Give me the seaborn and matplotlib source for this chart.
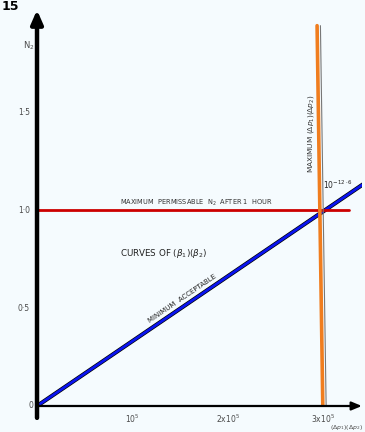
import matplotlib
matplotlib.use("Agg")
import matplotlib.pyplot as plt
import seaborn as sns
import pandas as pd

# values (x in units of 1e5)
min_accept_x = [0.0, 3.42]
min_accept_y = [0.0, 1.13]
max_n2_x = [0.0, 3.28]
max_n2_y = [1.0, 1.0]
max_dp_x = [3.0, 2.94]
max_dp_y = [0.0, 1.94]
y_ticks = [0.5, 1.0, 1.5]
y_labels = ["0·5", "1·0", "1·5"]
x_ticks = [1, 2, 3]
x_labels = ["10$^5$", "2x10$^5$", "3x10$^5$"]

bg = "#f5fbfe"
ink = "#4a4a4a"

sns.set_style("white")
fig = plt.figure(figsize=(3.65, 4.32), dpi=100)
fig.patch.set_facecolor(bg)
ax = fig.add_axes([0.1014, 0.0602, 0.890, 0.9167])
ax.set_facecolor(bg)

# minimum acceptable line: black ink under a blue overlay
line = pd.DataFrame({"x": min_accept_x, "y": min_accept_y})
sns.lineplot(data=line, x="x", y="y", ax=ax, color="black", lw=3.0, sort=False)
sns.lineplot(data=line, x="x", y="y", ax=ax, color="#0a14f0", lw=2.0, sort=False)

# maximum permissable N2
sns.lineplot(x=max_n2_x, y=max_n2_y, ax=ax, color="#cc0000", lw=2, sort=False)

# maximum (dp1)(dp2): thin pencil line plus orange overlay
sns.lineplot(x=[v + 0.035 for v in max_dp_x], y=max_dp_y, ax=ax, color="#777777", lw=0.8, sort=False)
sns.lineplot(x=max_dp_x, y=max_dp_y, ax=ax, color="#f07d1e", lw=2.6, sort=False)

ax.set_xlim(0, 3.41)
ax.set_ylim(0, 2.02)
for s in ax.spines.values():
    s.set_visible(False)

# arrowed axes
ax.annotate("", xy=(0, 1.0), xytext=(0, -0.03), xycoords="axes fraction",
            arrowprops=dict(arrowstyle="-|>,head_width=0.35,head_length=0.8",
                            color="black", lw=3.2, shrinkA=0, shrinkB=0))
ax.annotate("", xy=(1.0, 0), xytext=(0, 0), xycoords="axes fraction",
            arrowprops=dict(arrowstyle="-|>,head_width=0.25,head_length=0.6",
                            color="black", lw=1.6, shrinkA=0, shrinkB=0))

ax.set_yticks(y_ticks)
ax.set_yticklabels(y_labels)
ax.set_xticks(x_ticks)
ax.set_xticklabels(x_labels)
ax.tick_params(axis="y", direction="out", length=4, width=0.8, color=ink,
               labelsize=5.5, labelcolor=ink, pad=1)
ax.tick_params(axis="x", direction="inout", length=6, width=0.8, color=ink,
               labelsize=5.5, labelcolor=ink, pad=2)
ax.set_xlabel("")
ax.set_ylabel("")
ax.text(-0.012, 0.0, "0", transform=ax.get_yaxis_transform(), ha="right",
        va="center", fontsize=5.5, color=ink)

ax.text(-0.09, 1.84, "N$_2$", fontsize=6, color=ink, ha="center", va="center")

ax.text(0.87, 1.008, "MAXIMUM  PERMISSABLE  N$_2$  AFTER 1  HOUR", fontsize=4.8,
        color="#333333", ha="left", va="bottom")
ax.text(0.87, 0.78, "CURVES OF $(\\beta_1)(\\beta_2)$", fontsize=6.3,
        color="#222222", ha="left", va="center")
ax.text(1.53, 0.55, "MINIMUM  ACCEPTABLE", fontsize=5, color="#222222",
        ha="center", va="center", rotation=34.3, rotation_mode="anchor")
ax.text(2.88, 1.39, "MAXIMUM $(\\Delta p_1)(\\Delta p_2)$", fontsize=5.3,
        color="#333333", ha="center", va="center", rotation=90)
ax.text(3.16, 1.13, "$10^{-12\\cdot 6}$", fontsize=5.5, color="#222222",
        ha="center", va="center")

fig.text(363 / 365, 1 - 427 / 432, "$(\\Delta p_1)(\\Delta p_2)$", fontsize=4.4,
         color=ink, ha="right", va="center")
fig.text(0.003, 0.999, "15", fontsize=9, fontweight="bold", color="black",
         ha="left", va="top")

fig.savefig("out.png", dpi=100, facecolor=fig.get_facecolor())
